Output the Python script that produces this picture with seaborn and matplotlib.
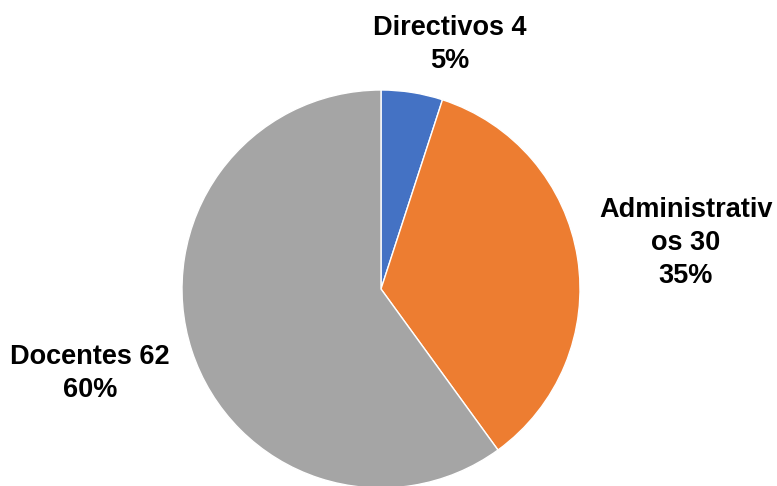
import matplotlib
matplotlib.use("Agg")
import matplotlib.pyplot as plt
import seaborn as sns

categories = ["Directivos", "Administrativos", "Docentes"]
counts = [4, 30, 62]
percents = [5, 35, 60]
colors = ["#4472C4", "#ED7D31", "#A5A5A5"]

sns.set_theme(style="white")
plt.rcParams['font.family'] = ['Liberation Sans', 'DejaVu Sans']

fig = plt.figure(figsize=(7.77, 4.86), dpi=100)
ax = fig.add_axes([0, 0, 1, 1])
ax.pie(percents, colors=colors, startangle=90, counterclock=False,
       radius=1, center=(0, 0),
       wedgeprops=dict(edgecolor="white", linewidth=1))

# pixel-to-data mapping: center at (381,289), radius 199 px
cx, cy, r = 381, 289, 199
ax.set_xlim(-cx / r, (777 - cx) / r)
ax.set_ylim(-(486 - cy) / r, cy / r)
ax.set_aspect("auto")

def d(px, py):
    return (px - cx) / r, (cy - py) / r

labels = [
    "Directivos 4\n5%",
    "Administrativ\nos 30\n35%",
    "Docentes 62\n60%",
]
pos = [d(450, 44), d(686, 243), d(90, 373)]
for t, (x, y) in zip(labels, pos):
    ax.text(x, y, t, ha="center", va="center", fontsize=19.5,
            fontweight="bold", color="#000000", linespacing=1.35)

ax.axis("off")
fig.savefig("out.png", dpi=100)
